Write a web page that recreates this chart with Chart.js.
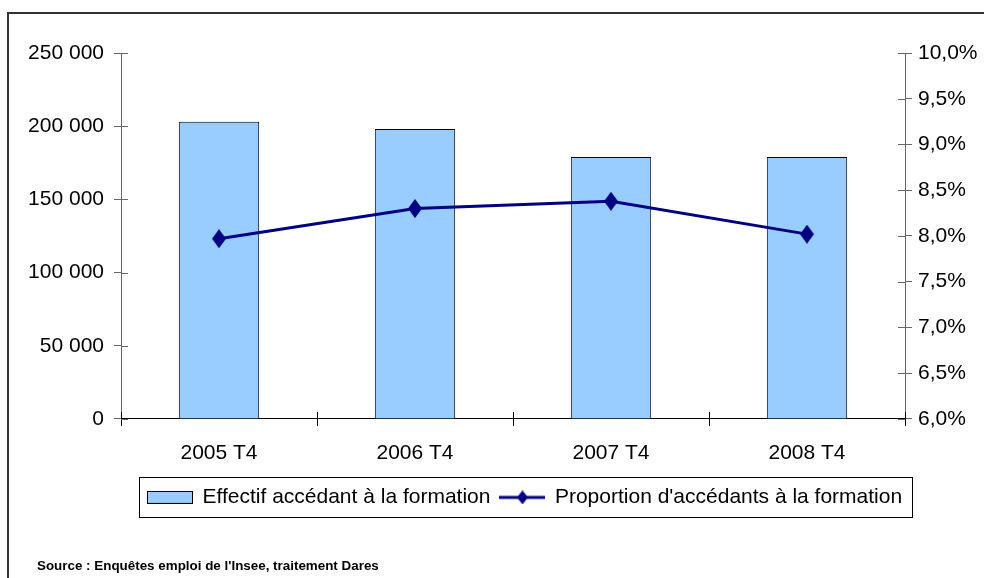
<!DOCTYPE html>
<html>
<head>
<meta charset="utf-8">
<script src="https://cdn.jsdelivr.net/npm/chart.js@4"></script>
<style>
  html, body { margin: 0; padding: 0; background: #fff; overflow: hidden; }
  #wrap { position: relative; width: 984px; height: 578px; }
  #frame { position: absolute; left: 7px; top: 12px; width: 1000px; height: 600px; border: 2px solid #333; box-sizing: border-box; }
  canvas { position: absolute; left: 0; top: 0; }
</style>
</head>
<body>
<div id="wrap">
  <div id="frame"></div>
  <canvas id="chart" width="984" height="578"></canvas>
</div>
<script>
const categories = ['2005 T4', '2006 T4', '2007 T4', '2008 T4'];
const effectif = [203000, 198000, 179000, 179000];
const proportion = [7.97, 8.30, 8.38, 8.02];
const leftMin = 0, leftMax = 250000, leftStep = 50000;
const rightMin = 6, rightMax = 10, rightStep = 0.5;
const sourceText = "Source : Enquêtes emploi de l'Insee, traitement Dares";

const barColor = '#99CCFF';
const lineColor = '#000080';
const fontFamily = '"Liberation Sans", Arial, sans-serif';

// tall diamond used as point marker
function diamond(w, h, lineLen) {
  const c = document.createElement('canvas');
  c.width = lineLen || w;
  c.height = h;
  const g = c.getContext('2d');
  const cx = c.width / 2, cy = h / 2;
  if (lineLen) {
    g.strokeStyle = lineColor;
    g.lineWidth = 3;
    g.beginPath();
    g.moveTo(0, cy);
    g.lineTo(lineLen, cy);
    g.stroke();
  }
  g.fillStyle = lineColor;
  g.beginPath();
  g.moveTo(cx, cy - h / 2);
  g.lineTo(cx + w / 2, cy);
  g.lineTo(cx, cy + h / 2);
  g.lineTo(cx - w / 2, cy);
  g.closePath();
  g.fill();
  return c;
}

function barIcon() {
  const c = document.createElement('canvas');
  c.width = 46;
  c.height = 13;
  const g = c.getContext('2d');
  g.fillStyle = barColor;
  g.fillRect(0.5, 0.5, 45, 12);
  g.strokeStyle = '#000';
  g.lineWidth = 1;
  g.strokeRect(0.5, 0.5, 45, 12);
  return c;
}

const pointMarker = diamond(14, 19);
const legendLine = diamond(11, 14, 46);
const legendBar = barIcon();

// move legend and source to where they sit in the original
const placeBlocks = {
  id: 'placeBlocks',
  afterLayout(chart) {
    const lg = chart.legend;
    const w = lg.right - lg.left;
    lg.left = 138;
    lg.right = 138 + w;
    const t = chart.titleBlock;
    t.left = 37;
  }
};

// frame round the legend + inner half of the crossing tick marks
const extras = {
  id: 'extras',
  afterDraw(chart) {
    const ctx = chart.ctx;
    const area = chart.chartArea;
    const boxes = chart.legend.legendHitBoxes;
    if (boxes && boxes.length) {
      let l = Infinity, r = -Infinity, t = Infinity, b = -Infinity;
      boxes.forEach(h => {
        l = Math.min(l, h.left); r = Math.max(r, h.left + h.width);
        t = Math.min(t, h.top); b = Math.max(b, h.top + h.height);
      });
      ctx.save();
      ctx.strokeStyle = '#000';
      ctx.lineWidth = 1;
      ctx.strokeRect(Math.round(l - 9) + 0.5, Math.round(t - 10) + 0.5, Math.round(r - l + 19), Math.round(b - t + 19));
      ctx.restore();
    }
    ctx.save();
    ctx.lineWidth = 1;
    const y = chart.scales.y, y1 = chart.scales.y1, x = chart.scales.x;
    ctx.strokeStyle = '#666';
    ctx.beginPath();
    y.ticks.forEach((tk, i) => {
      const p = Math.round(y.getPixelForTick(i)) + 0.5;
      ctx.moveTo(area.left, p); ctx.lineTo(area.left + 7, p);
    });
    y1.ticks.forEach((tk, i) => {
      const p = Math.round(y1.getPixelForTick(i)) + 0.5;
      ctx.moveTo(area.right - 7, p); ctx.lineTo(area.right, p);
    });
    ctx.stroke();
    ctx.strokeStyle = '#000';
    ctx.beginPath();
    for (let i = 0; i <= categories.length; i++) {
      const p = Math.round(x.getPixelForValue(i - 0.5)) + 0.5;
      ctx.moveTo(p, area.bottom - 7); ctx.lineTo(p, area.bottom);
    }
    ctx.stroke();
    ctx.restore();
  }
};

Chart.defaults.font.family = fontFamily;
Chart.defaults.color = '#000';

new Chart(document.getElementById('chart').getContext('2d'), {
  data: {
    labels: categories,
    datasets: [
      {
        type: 'line',
        label: "Proportion d'accédants à la formation",
        data: proportion,
        yAxisID: 'y1',
        borderColor: lineColor,
        backgroundColor: lineColor,
        borderWidth: 3,
        tension: 0,
        pointStyle: pointMarker,
        pointRadius: 7,
        order: 0
      },
      {
        type: 'bar',
        label: 'Effectif accédant à la formation',
        data: effectif,
        yAxisID: 'y',
        backgroundColor: barColor,
        borderColor: '#000',
        borderWidth: 1,
        barPercentage: 0.41,
        categoryPercentage: 1,
        order: 1
      }
    ]
  },
  options: {
    responsive: false,
    animation: false,
    devicePixelRatio: 1,
    layout: { padding: { top: 53, left: 0, right: 0, bottom: 0 } },
    scales: {
      x: {
        offset: true,
        grid: { offset: true, drawOnChartArea: false, drawTicks: true, tickLength: 7, color: '#000' },
        border: { color: '#000', width: 1 },
        ticks: { font: { size: 21 }, padding: 15, maxRotation: 0 },
        afterFit(s) { s.height = 58; }
      },
      y: {
        position: 'left',
        min: leftMin,
        max: leftMax,
        grid: { drawOnChartArea: false, tickLength: 7, color: '#666' },
        border: { color: '#666', width: 1 },
        ticks: {
          stepSize: leftStep,
          padding: 10,
          font: { size: 21 },
          callback: v => v.toLocaleString('en-US').replace(/,/g, ' ')
        },
        afterFit(s) { s.width = 121; }
      },
      y1: {
        position: 'right',
        min: rightMin,
        max: rightMax,
        grid: { drawOnChartArea: false, tickLength: 7, color: '#666' },
        border: { color: '#666', width: 1 },
        ticks: {
          stepSize: rightStep,
          padding: 6,
          font: { size: 21 },
          callback: v => v.toFixed(1).replace('.', ',') + '%'
        },
        afterFit(s) { s.width = 79; }
      }
    },
    plugins: {
      tooltip: { enabled: false },
      legend: {
        position: 'bottom',
        align: 'start',
        labels: {
          usePointStyle: true,
          pointStyleWidth: 44,
          padding: 10,
          color: '#000',
          font: { size: 21 },
          sort: (a, b) => b.datasetIndex - a.datasetIndex,
          generateLabels(chart) {
            const items = Chart.defaults.plugins.legend.labels.generateLabels(chart);
            items.forEach(it => {
              it.pointStyle = it.datasetIndex === 1 ? legendBar : legendLine;
            });
            return items;
          }
        }
      },
      title: {
        display: true,
        position: 'bottom',
        align: 'start',
        text: sourceText,
        color: '#000',
        font: { size: 13.4, weight: 'bold' },
        padding: { top: 40, bottom: 4 }
      }
    }
  },
  plugins: [placeBlocks, extras]
});
</script>
</body>
</html>
